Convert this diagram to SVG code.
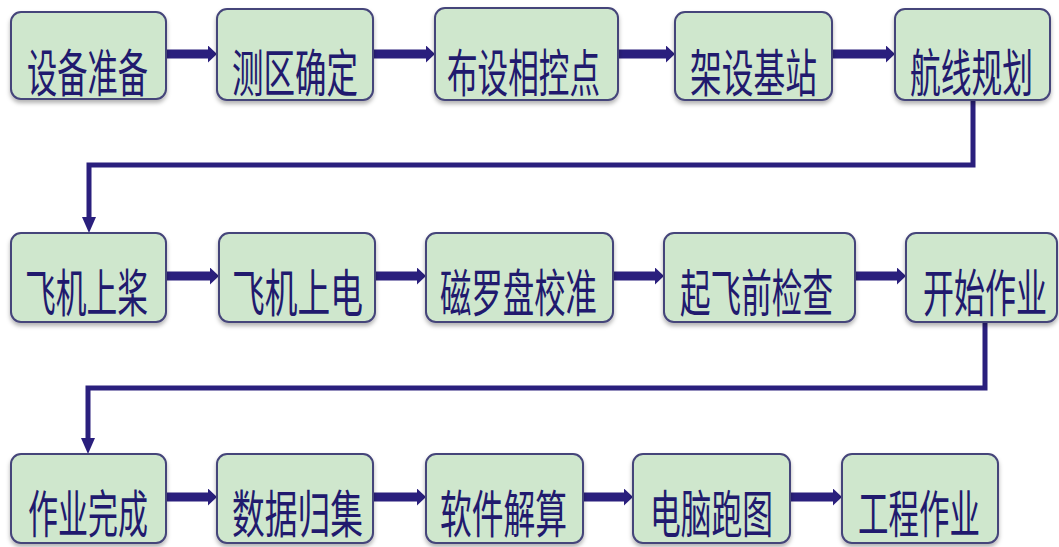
<svg xmlns="http://www.w3.org/2000/svg" width="1059" height="547" viewBox="0 0 1059 547">
<defs>
<style>
.box{fill:#cfe7cd;stroke:#45457a;stroke-width:2;filter:url(#sh)}
.lbl{font-family:"Noto Sans CJK SC","Noto Sans CJK JP",sans-serif;font-size:51px;fill:#211a6e;text-anchor:middle}
.h{stroke:#2a1f7d;stroke-width:9;fill:none;marker-end:url(#ah)}
.e{stroke:#2a1f7d;stroke-width:5;fill:none;marker-end:url(#av)}
</style>
<filter id="sh" x="-10%" y="-10%" width="120%" height="130%">
<feDropShadow dx="0" dy="3" stdDeviation="2" flood-color="#000" flood-opacity="0.3"/>
</filter>
<marker id="ah" markerUnits="userSpaceOnUse" markerWidth="9" markerHeight="17" refX="0" refY="8.5" orient="auto">
<path d="M0,0 L9,8.5 L0,17 z" fill="#2a1f7d"/>
</marker>
<marker id="av" markerUnits="userSpaceOnUse" markerWidth="16" markerHeight="14" refX="0" refY="7" orient="auto">
<path d="M0,0 L16,7 L0,14 z" fill="#2a1f7d"/>
</marker>
</defs>
<rect width="1059" height="547" fill="#fff"/>
<g id="connectors">
<line class="h" x1="166" y1="54" x2="208" y2="54"/>
<line class="h" x1="373" y1="54" x2="426" y2="54"/>
<line class="h" x1="618" y1="54" x2="666" y2="54"/>
<line class="h" x1="832" y1="54" x2="886" y2="54"/>
<polyline class="e" points="973,100 973,165 89,165 89,217"/>
<line class="h" x1="166" y1="276" x2="210" y2="276"/>
<line class="h" x1="375" y1="276" x2="417" y2="276"/>
<line class="h" x1="613" y1="276" x2="655" y2="276"/>
<line class="h" x1="855" y1="276" x2="897" y2="276"/>
<polyline class="e" points="985,322 985,388 88,388 88,438"/>
<line class="h" x1="166" y1="497" x2="208" y2="497"/>
<line class="h" x1="373" y1="497" x2="417" y2="497"/>
<line class="h" x1="583" y1="497" x2="624" y2="497"/>
<line class="h" x1="790" y1="497" x2="833" y2="497"/>
</g>
<g id="n1"><rect class="box" x="11" y="12" width="155" height="87" rx="10"/><text class="lbl" transform="translate(87.5,92) scale(0.593,1)">设备准备</text></g>
<g id="n2"><rect class="box" x="217" y="9" width="156" height="91" rx="10"/><text class="lbl" transform="translate(295,92) scale(0.618,1)">测区确定</text></g>
<g id="n3"><rect class="box" x="435" y="8" width="183" height="92" rx="10"/><text class="lbl" transform="translate(523.5,92) scale(0.6,1)">布设相控点</text></g>
<g id="n4"><rect class="box" x="675" y="12" width="157" height="88" rx="10"/><text class="lbl" transform="translate(753.5,92) scale(0.623,1)">架设基站</text></g>
<g id="n5"><rect class="box" x="895" y="9" width="155" height="91" rx="10"/><text class="lbl" transform="translate(971.5,92) scale(0.603,1)">航线规划</text></g>
<g id="n6"><rect class="box" x="11" y="233" width="155" height="89" rx="10"/><text class="lbl" transform="translate(86.5,312) scale(0.603,1)">飞机上桨</text></g>
<g id="n7"><rect class="box" x="219" y="233" width="156" height="89" rx="10"/><text class="lbl" transform="translate(297.5,312) scale(0.642,1)">飞机上电</text></g>
<g id="n8"><rect class="box" x="426" y="233" width="187" height="89" rx="10"/><text class="lbl" transform="translate(518.5,312) scale(0.616,1)">磁罗盘校准</text></g>
<g id="n9"><rect class="box" x="664" y="233" width="191" height="89" rx="10"/><text class="lbl" transform="translate(756.5,312) scale(0.6,1)">起飞前检查</text></g>
<g id="n10"><rect class="box" x="906" y="233" width="151" height="89" rx="10"/><text class="lbl" transform="translate(985,312) scale(0.608,1)">开始作业</text></g>
<g id="n11"><rect class="box" x="11" y="454" width="155" height="89" rx="10"/><text class="lbl" transform="translate(88,533) scale(0.588,1)">作业完成</text></g>
<g id="n12"><rect class="box" x="217" y="454" width="156" height="89" rx="10"/><text class="lbl" transform="translate(297.5,533) scale(0.642,1)">数据归集</text></g>
<g id="n13"><rect class="box" x="426" y="454" width="157" height="89" rx="10"/><text class="lbl" transform="translate(503.5,533) scale(0.623,1)">软件解算</text></g>
<g id="n14"><rect class="box" x="633" y="454" width="157" height="89" rx="10"/><text class="lbl" transform="translate(711.5,533) scale(0.603,1)">电脑跑图</text></g>
<g id="n15"><rect class="box" x="842" y="454" width="156" height="89" rx="10"/><text class="lbl" transform="translate(919,533) scale(0.598,1)">工程作业</text></g>
</svg>
